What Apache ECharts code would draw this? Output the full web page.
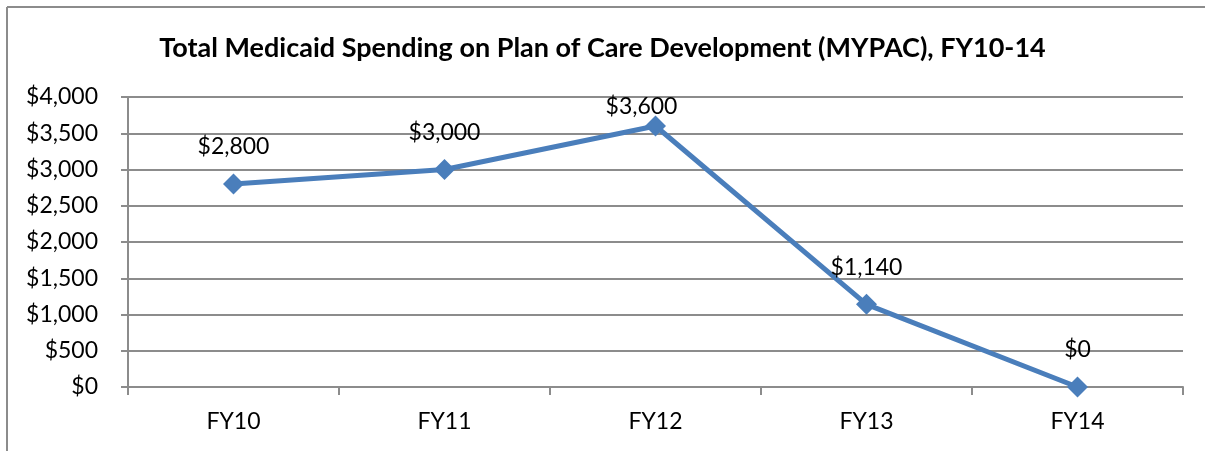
<!DOCTYPE html>
<html>
<head>
<meta charset="utf-8">
<script src="https://cdn.jsdelivr.net/npm/echarts@6/dist/echarts.min.js"></script>
<style>
    html, body { margin: 0; padding: 0; background: #fff; }
    #chart { width: 1205px; height: 451px; }
</style>
</head>
<body>
<div id="chart"></div>
<script>
// 数据
var categories = ["FY10", "FY11", "FY12", "FY13", "FY14"];
var spending = [2800, 3000, 3600, 1140, 0];
var yTicks = [0, 500, 1000, 1500, 2000, 2500, 3000, 3500, 4000];

var myChart = echarts.init(document.getElementById("chart"));
var fontFam = "Lato, 'Open Sans', sans-serif";
var gridColor = "#8c8c8c";

function money(v) {
    return "$" + Number(v).toLocaleString("en-US");
}

// FY12 label is pushed down in the original (clamped to plot area)
var seriesData = spending.map(function (v, i) {
    var item = { value: v };
    if (v === Math.max.apply(null, spending)) {
        item.label = { offset: [-14, 18] };
    }
    return item;
});

var option = {
    animation: false,
    title: {
        text: "Total Medicaid Spending on Plan of Care Development (MYPAC), FY10-14",
        left: "center",
        top: 30,
        textStyle: {
            fontFamily: fontFam,
            fontWeight: "bold",
            fontSize: 27,
            color: "#000"
        }
    },
    grid: {
        left: 128,
        right: 22,
        top: 97,
        bottom: 64
    },
    xAxis: {
        type: "category",
        data: categories,
        boundaryGap: true,
        axisLine: { lineStyle: { color: gridColor, width: 2 } },
        axisTick: {
            // 刻度
            show: true,
            length: 8,
            interval: 0,
            lineStyle: { color: gridColor, width: 2 }
        },
        axisLabel: {
            color: "#000",
            fontFamily: fontFam,
            fontSize: 23,
            margin: 23
        }
    },
    yAxis: {
        type: "value",
        min: yTicks[0],
        max: yTicks[yTicks.length - 1],
        interval: yTicks[1] - yTicks[0],
        axisLine: { show: true, lineStyle: { color: gridColor, width: 2 } },
        axisTick: { show: true, length: 7, lineStyle: { color: gridColor, width: 2 } },
        axisLabel: {
            color: "#000",
            fontFamily: fontFam,
            fontSize: 23,
            margin: 30,
            formatter: money
        },
        splitLine: {
            // 隔线
            show: true,
            lineStyle: { color: gridColor, width: 2 }
        }
    },
    series: [
        {
            type: "line",
            data: seriesData,
            symbol: "diamond",
            symbolSize: 21,
            lineStyle: { color: "#4a7ebb", width: 5 },
            itemStyle: { color: "#4a7ebb" },
            label: {
                show: true,
                position: "top",
                distance: 15,
                color: "#000",
                fontFamily: fontFam,
                fontSize: 23,
                formatter: function (p) { return money(p.value); }
            }
        }
    ],
    graphic: [
        {
            type: "line",
            shape: { x1: 7, y1: 7, x2: 1205, y2: 7 },
            style: { stroke: "#8c8c8c", lineWidth: 2 }
        },
        {
            type: "line",
            shape: { x1: 7, y1: 7, x2: 7, y2: 451 },
            style: { stroke: "#8c8c8c", lineWidth: 2 }
        }
    ]
};

myChart.setOption(option);
</script>
</body>
</html>
